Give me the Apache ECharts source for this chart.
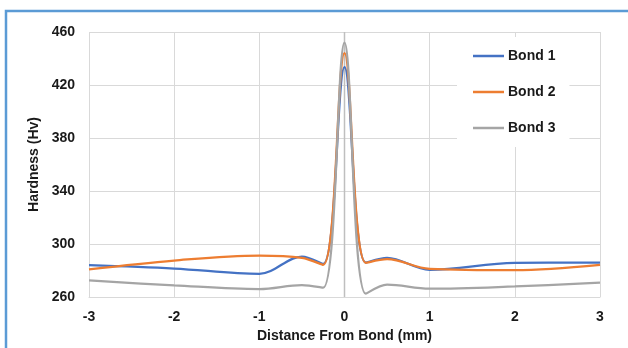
<!DOCTYPE html>
<html>
<head>
<meta charset="utf-8">
<script src="https://cdn.jsdelivr.net/npm/echarts@6/dist/echarts.min.js"></script>
<style>
html,body{margin:0;padding:0;background:#fff;}
#c{width:628px;height:348px;}
</style>
</head>
<body>
<div id="c"></div>
<script>
const distances = [-3, -2, -1, -0.5, -0.25, 0, 0.25, 0.5, 1, 2, 3];
const bond1 = [284, 281.5, 277.5, 290.5, 285, 433.5, 286, 289.5, 280.5, 285.8, 286];
const bond2 = [280.8, 287.5, 291.3, 289.5, 284.3, 444, 285.8, 288.5, 281.3, 280.3, 284.3];
const bond3 = [272.5, 268.8, 266, 269, 267, 452, 262.5, 269.3, 266.3, 268, 270.8];
const seriesNames = ['Bond 1', 'Bond 2', 'Bond 3'];
const yTicks = [260, 300, 340, 380, 420, 460];
const xTicks = [-3, -2, -1, 0, 1, 2, 3];

const colors = ['#4472c4', '#ed7d31', '#a5a5a5'];
const font = 'Liberation Sans, Arial, sans-serif';

function pairs(vals){ return distances.map((d,i)=>[d, vals[i]]); }

const chart = echarts.init(document.getElementById('c'), null, {renderer:'canvas'});
chart.setOption({
  animation:false,
  backgroundColor:'#fff',
  graphic:[{
    type:'rect', shape:{x:6, y:11, width:640, height:360},
    style:{fill:'none', stroke:'#5b9bd5', lineWidth:2.5}, silent:true, z:100
  }],
  grid:{left:89, right:28, top:32, bottom:51},
  xAxis:{
    type:'value', min:xTicks[0], max:xTicks[xTicks.length-1], interval:1,
    name:'Distance From Bond (mm)', nameLocation:'middle', nameGap:32,
    nameTextStyle:{fontFamily:font, fontWeight:'bold', fontSize:14, color:'#1a1a1a'},
    axisLine:{show:true, onZero:false, lineStyle:{color:'#d9d9d9', width:1}},
    axisTick:{show:false},
    axisLabel:{fontFamily:font, fontWeight:'bold', fontSize:14, color:'#1a1a1a', margin:13},
    splitLine:{show:true, lineStyle:{color:'#d9d9d9', width:1}}
  },
  yAxis:{
    type:'value', min:yTicks[0], max:yTicks[yTicks.length-1], interval:40,
    name:'Hardness (Hv)', nameLocation:'middle', nameGap:41,
    nameTextStyle:{fontFamily:font, fontWeight:'bold', fontSize:14, color:'#1a1a1a'},
    axisLine:{show:false},
    axisTick:{show:false},
    axisLabel:{fontFamily:font, fontWeight:'bold', fontSize:14, color:'#1a1a1a', margin:14},
    splitLine:{show:true, lineStyle:{color:'#d9d9d9', width:1}}
  },
  legend:{
    orient:'vertical', left:457, top:37,
    data:seriesNames,
    backgroundColor:'#fff',
    padding:[12,14,12,16],
    icon:'rect',
    itemWidth:31, itemHeight:2.5, itemGap:22,
    textStyle:{fontFamily:font, fontWeight:'bold', fontSize:14, color:'#1a1a1a', padding:[0,0,0,-1]},
  },
  series:[
    {
      type:'line', name:'axis0', data:[[0, yTicks[0]],[0, yTicks[yTicks.length-1]]],
      symbol:'none', silent:true, lineStyle:{color:'#bfbfbf', width:1.5}, z:1
    },
    ...[bond1,bond2,bond3].map((v,i)=>({
      type:'line', name:seriesNames[i], data:pairs(v), smooth:0.35,
      symbol:'none', lineStyle:{color:colors[i], width:2.25}, itemStyle:{color:colors[i]}, z:2+i
    }))
  ]
});
</script>
</body>
</html>
